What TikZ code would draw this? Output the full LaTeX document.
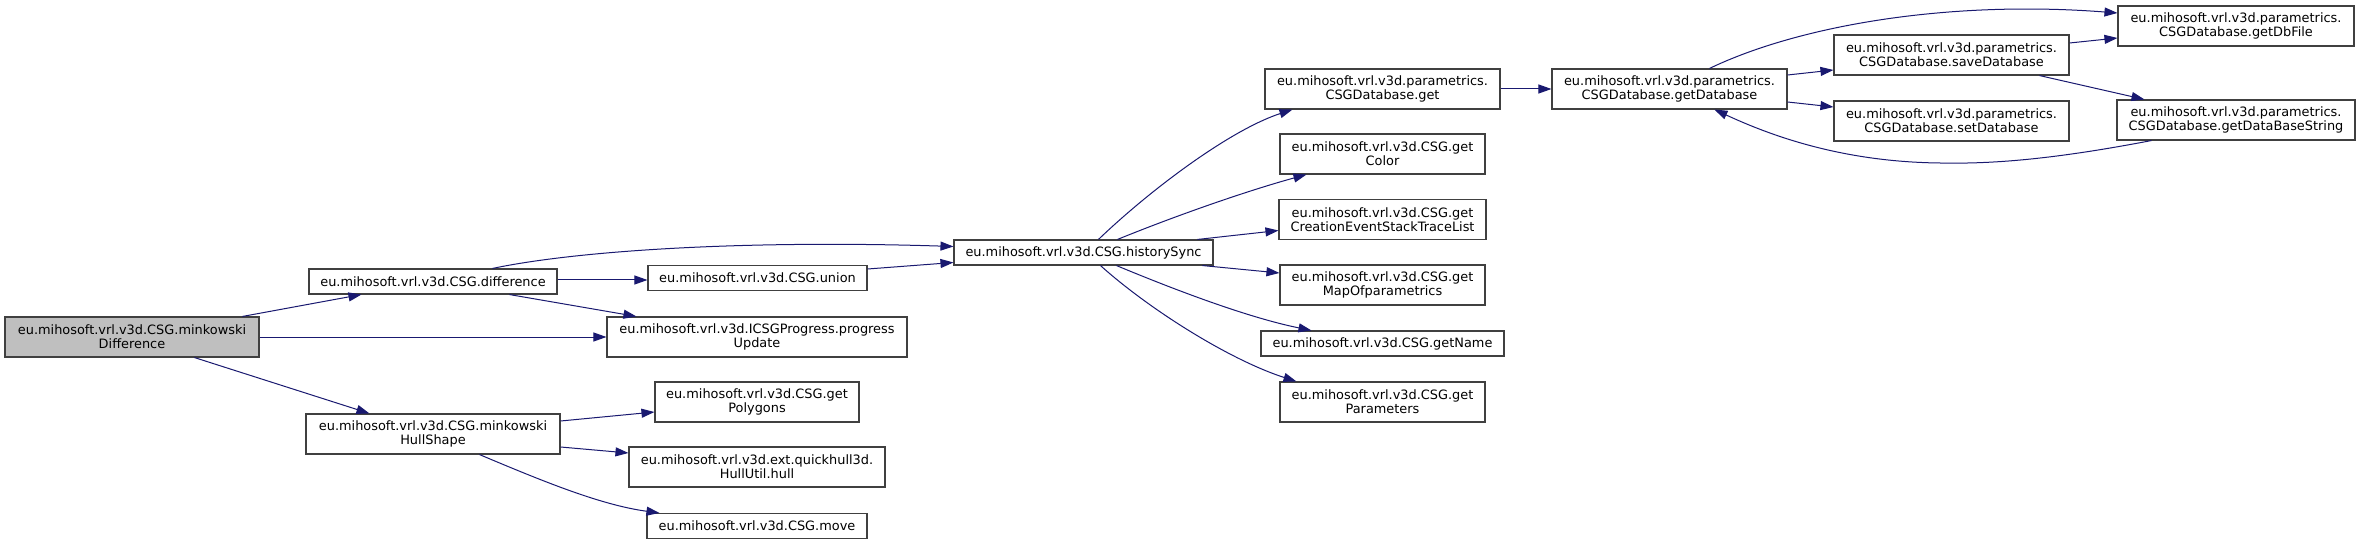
\documentclass[tikz,border=0pt]{standalone}
\usepackage{fontspec}
\setmainfont{DejaVu Sans}
\usetikzlibrary{arrows.meta,calc}
\definecolor{edgeblue}{HTML}{191970}
\definecolor{boxgray}{HTML}{404040}
\definecolor{rootfill}{HTML}{BFBFBF}
\tikzset{
  fn/.style={draw=boxgray, line width=1.1pt, fill=white, rectangle, inner sep=0pt, align=center,
    font=\fontsize{12.9pt}{14pt}\selectfont, text=black},
  root/.style={fn, fill=rootfill},
  call/.style={draw=edgeblue, line width=1pt, -{Triangle[length=13pt,width=9pt]}}
}
\begin{document}
\begin{tikzpicture}[x=1pt,y=-1pt]
\useasboundingbox[fill=white] (0,0) rectangle (2360,545);
% nodes
\node[root, minimum width=254pt, minimum height=40pt] (mdiff) at (132,337) {eu.mihosoft.vrl.v3d.CSG.minkowski\\Difference};
\node[fn, minimum width=248pt, minimum height=25pt] (diff) at (433,281.5) {eu.mihosoft.vrl.v3d.CSG.difference};
\node[fn, minimum width=254pt, minimum height=40pt] (hullshape) at (433,434) {eu.mihosoft.vrl.v3d.CSG.minkowski\\HullShape};
\node[fn, minimum width=219pt, minimum height=25pt] (union) at (757.5,278) {eu.mihosoft.vrl.v3d.CSG.union};
\node[fn, minimum width=300pt, minimum height=40pt] (progress) at (757,337) {eu.mihosoft.vrl.v3d.ICSGProgress.progress\\Update};
\node[fn, minimum width=204pt, minimum height=40pt] (polygons) at (757,402) {eu.mihosoft.vrl.v3d.CSG.get\\Polygons};
\node[fn, minimum width=256pt, minimum height=40pt] (hullutil) at (757,467) {eu.mihosoft.vrl.v3d.ext.quickhull3d.\\HullUtil.hull};
\node[fn, minimum width=220pt, minimum height=25pt] (move) at (757,526) {eu.mihosoft.vrl.v3d.CSG.move};
\node[fn, minimum width=259pt, minimum height=25pt] (sync) at (1083.5,252.5) {eu.mihosoft.vrl.v3d.CSG.historySync};
\node[fn, minimum width=235pt, minimum height=40pt] (dbget) at (1382.5,89) {eu.mihosoft.vrl.v3d.parametrics.\\CSGDatabase.get};
\node[fn, minimum width=205pt, minimum height=40pt] (getcolor) at (1382.5,154) {eu.mihosoft.vrl.v3d.CSG.get\\Color};
\node[fn, minimum width=207pt, minimum height=40pt] (creation) at (1382.5,219.5) {eu.mihosoft.vrl.v3d.CSG.get\\CreationEventStackTraceList};
\node[fn, minimum width=205pt, minimum height=40pt] (mapof) at (1382.5,285) {eu.mihosoft.vrl.v3d.CSG.get\\MapOfparametrics};
\node[fn, minimum width=243pt, minimum height=25pt] (getname) at (1382.5,343.5) {eu.mihosoft.vrl.v3d.CSG.getName};
\node[fn, minimum width=205pt, minimum height=40pt] (getparams) at (1382.5,402) {eu.mihosoft.vrl.v3d.CSG.get\\Parameters};
\node[fn, minimum width=235pt, minimum height=40pt] (getdb) at (1669.5,89) {eu.mihosoft.vrl.v3d.parametrics.\\CSGDatabase.getDatabase};
\node[fn, minimum width=235pt, minimum height=40pt] (save) at (1951.5,55) {eu.mihosoft.vrl.v3d.parametrics.\\CSGDatabase.saveDatabase};
\node[fn, minimum width=235pt, minimum height=40pt] (set) at (1951.5,121) {eu.mihosoft.vrl.v3d.parametrics.\\CSGDatabase.setDatabase};
\node[fn, minimum width=236pt, minimum height=40pt] (dbfile) at (2236,26) {eu.mihosoft.vrl.v3d.parametrics.\\CSGDatabase.getDbFile};
\node[fn, minimum width=238pt, minimum height=40pt] (dbstring) at (2236,120) {eu.mihosoft.vrl.v3d.parametrics.\\CSGDatabase.getDataBaseString};
% edges
\draw[call] ([xshift=238pt]mdiff.north west) -- ([xshift=53pt]diff.south west);
\draw[call] (mdiff.east) -- (progress.west);
\draw[call] ([xshift=190pt]mdiff.south west) -- ([xshift=64pt]hullshape.north west);
\draw[call] ([xshift=184pt]diff.north west) .. controls (580,250) and (750,240) .. ([yshift=6pt]sync.west);
\draw[call] ([yshift=1.5pt]diff.east) -- ([yshift=-2pt]union.west);
\draw[call] ([xshift=201pt]diff.south west) -- ([xshift=30pt]progress.north west);
\draw[call] ([yshift=9pt]union.east) -- ([yshift=-10pt]sync.west);
\draw[call] ([xshift=145pt]sync.north west) .. controls (1150,190) and (1230,130) .. ([xshift=28pt]dbget.south west);
\draw[call] ([xshift=164pt]sync.north west) .. controls (1180,214) and (1250,190) .. ([xshift=27pt]getcolor.south west);
\draw[call] ([xshift=244pt]sync.north west) -- ([yshift=-11pt]creation.west);
\draw[call] ([xshift=249pt]sync.south west) -- ([yshift=12pt]mapof.west);
\draw[call] ([xshift=163pt]sync.south west) .. controls (1180,292) and (1250,318) .. ([xshift=51pt]getname.north west);
\draw[call] ([xshift=147pt]sync.south west) .. controls (1150,310) and (1230,360) .. ([xshift=17pt]getparams.north west);
\draw[call] (dbget.east) -- (getdb.west);
\draw[call] ([xshift=158pt]getdb.north west) .. controls (1800,25) and (1950,0) .. ([yshift=13pt]dbfile.west);
\draw[call] ([yshift=14pt]getdb.east) -- ([yshift=-15pt]save.west);
\draw[call] ([yshift=-13pt]getdb.east) -- ([yshift=14pt]set.west);
\draw[call] ([yshift=12pt]save.east) -- ([yshift=-12pt]dbfile.west);
\draw[call] ([xshift=206pt]save.south west) -- ([xshift=28pt]dbstring.north west);
\draw[call] ([xshift=35pt]dbstring.south west) .. controls (2050,160) and (1990,164) .. (1940,163) .. controls (1850,162) and (1780,140) .. ([xshift=163pt]getdb.south west);
\draw[call] ([yshift=13pt]hullshape.east) -- ([yshift=-10pt]polygons.west);
\draw[call] ([yshift=-13pt]hullshape.east) -- ([yshift=14pt]hullutil.west);
\draw[call] ([xshift=174pt]hullshape.south west) .. controls (540,480) and (600,505) .. ([xshift=13pt]move.north west);
\end{tikzpicture}
\end{document}
